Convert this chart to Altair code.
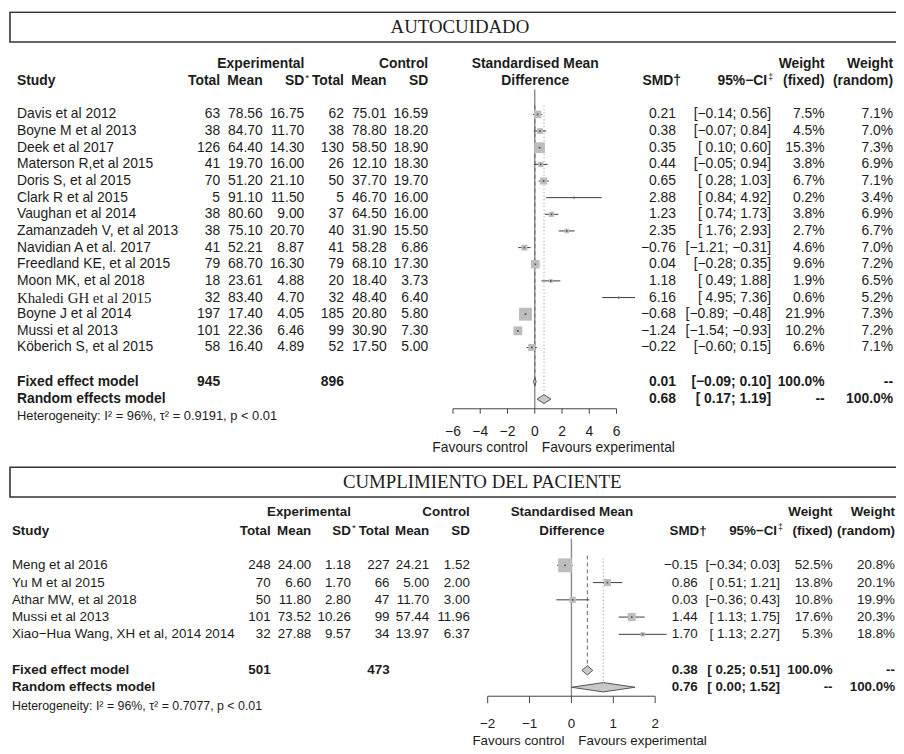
import altair as alt
import pandas as pd

SANS = "Liberation Sans"
SERIF = "Liberation Serif"
TXT = "#1c1c1c"
SQ = "#bdbdbd"
LINE = "#3a3a3a"

# ---------------- AUTOCUIDADO ----------------
a_study = ["Davis et al 2012", "Boyne M et al 2013", "Deek et al 2017", "Materson R,et al 2015",
           "Doris S, et al 2015", "Clark R et al 2015", "Vaughan et al 2014", "Zamanzadeh V, et al 2013",
           "Navidian A et al. 2017", "Freedland KE, et al 2015", "Moon MK, et al 2018",
           "Khaledi GH et al 2015", "Boyne J et al 2014", "Mussi et al 2013", "Köberich S, et al 2015"]
a_e_total = [63, 38, 126, 41, 70, 5, 38, 38, 41, 79, 18, 32, 197, 101, 58]
a_e_mean = [78.56, 84.70, 64.40, 19.70, 51.20, 91.10, 80.60, 75.10, 52.21, 68.70, 23.61, 83.40, 17.40, 22.36, 16.40]
a_e_sd = [16.75, 11.70, 14.30, 16.00, 21.10, 11.50, 9.00, 20.70, 8.87, 16.30, 4.88, 4.70, 4.05, 6.46, 4.89]
a_c_total = [62, 38, 130, 26, 50, 5, 37, 40, 41, 79, 20, 32, 185, 99, 52]
a_c_mean = [75.01, 78.80, 58.50, 12.10, 37.70, 46.70, 64.50, 31.90, 58.28, 68.10, 18.40, 48.40, 20.80, 30.90, 17.50]
a_c_sd = [16.59, 18.20, 18.90, 18.30, 19.70, 16.00, 16.00, 15.50, 6.86, 17.30, 3.73, 6.40, 5.80, 7.30, 5.00]
a_smd = [0.21, 0.38, 0.35, 0.44, 0.65, 2.88, 1.23, 2.35, -0.76, 0.04, 1.18, 6.16, -0.68, -1.24, -0.22]
a_lo = [-0.14, -0.07, 0.10, -0.05, 0.28, 0.84, 0.74, 1.76, -1.21, -0.28, 0.49, 4.95, -0.89, -1.54, -0.60]
a_hi = [0.56, 0.84, 0.60, 0.94, 1.03, 4.92, 1.73, 2.93, -0.31, 0.35, 1.88, 7.36, -0.48, -0.93, 0.15]
a_w_fixed = [7.5, 4.5, 15.3, 3.8, 6.7, 0.2, 3.8, 2.7, 4.6, 9.6, 1.9, 0.6, 21.9, 10.2, 6.6]
a_w_random = [7.1, 7.0, 7.3, 6.9, 7.1, 3.4, 6.9, 6.7, 7.0, 7.2, 6.5, 5.2, 7.3, 7.2, 7.1]
a_totals = [945, 896]
a_fixed = [0.01, -0.09, 0.10]
a_random = [0.68, 0.17, 1.19]
a_het = ["96%", "0.9191", "0.01"]
a_ticks = [-6, -4, -2, 0, 2, 4, 6]

# ---------------- CUMPLIMIENTO DEL PACIENTE ----------------
b_study = ["Meng et al 2016", "Yu M et al 2015", "Athar MW, et al 2018", "Mussi et al 2013",
           "Xiao\u2212Hua Wang, XH et al, 2014 2014"]
b_e_total = [248, 70, 50, 101, 32]
b_e_mean = [24.00, 6.60, 11.80, 73.52, 27.88]
b_e_sd = [1.18, 1.70, 2.80, 10.26, 9.57]
b_c_total = [227, 66, 47, 99, 34]
b_c_mean = [24.21, 5.00, 11.70, 57.44, 13.97]
b_c_sd = [1.52, 2.00, 3.00, 11.96, 6.37]
b_smd = [-0.15, 0.86, 0.03, 1.44, 1.70]
b_lo = [-0.34, 0.51, -0.36, 1.13, 1.13]
b_hi = [0.03, 1.21, 0.43, 1.75, 2.27]
b_w_fixed = [52.5, 13.8, 10.8, 17.6, 5.3]
b_w_random = [20.8, 20.1, 19.9, 20.3, 18.8]
b_totals = [501, 473]
b_fixed = [0.38, 0.25, 0.51]
b_random = [0.76, 0.00, 1.52]
b_het = ["96%", "0.7077", "0.01"]
b_ticks = [-2, -1, 0, 1, 2]

SERIF_STUDIES = ["Khaledi GH et al 2015"]

PANEL_A = dict(title="AUTOCUIDADO", study=a_study, et=a_e_total, em=a_e_mean, esd=a_e_sd,
               ct=a_c_total, cm=a_c_mean, csd=a_c_sd, smd=a_smd, lo=a_lo, hi=a_hi,
               wf=a_w_fixed, wr=a_w_random, totals=a_totals, fixed=a_fixed, random=a_random,
               het=a_het, ticks=a_ticks)
PANEL_B = dict(title="CUMPLIMIENTO DEL PACIENTE", study=b_study, et=b_e_total, em=b_e_mean, esd=b_e_sd,
               ct=b_c_total, cm=b_c_mean, csd=b_c_sd, smd=b_smd, lo=b_lo, hi=b_hi,
               wf=b_w_fixed, wr=b_w_random, totals=b_totals, fixed=b_fixed, random=b_random,
               het=b_het, ticks=b_ticks)

# ---------------- layout (positions / styles) ----------------
LAYOUT_A = dict(h=454, y0=104, dy=16.8, xr=[449, 614], fs=14, hfs=13, sfs=15,
                cols=dict(study=9, et=214, em=257, esd=299, ct=339, cm=382, csd=424,
                          smd=674, ci=770, wf=824, wr=893),
                smdhdr=679, cihdr=766, smdcenter=532,
                hdr1=-3, hdr2=-2, mfix=16.05, mran=17.1, het=18.1,
                axis=17.68, ticklen=0.3, labrow=19.1, favrow=20.06,
                zero=[-1.49, 17.68], fixline=[-0.54, 15.75], ranline=[-0.54, 16.75],
                dh=0.27, sq=13, box=[1, 31], title_x=456, title_y=16)
LAYOUT_B = dict(h=292, y0=105, dy=17.4, xr=[484, 653], fs=13.5, hfs=12.5, sfs=14.5,
                cols=dict(study=4, et=265, em=306, esd=346, ct=385, cm=425, csd=466,
                          smd=696, ci=779, wf=832, wr=895),
                smdhdr=705, cihdr=776, smdcenter=569,
                hdr1=-3.1, hdr2=-2.0, mfix=6.09, mran=7.07, het=8.16,
                axis=7.59, ticklen=0.4, labrow=9.2, favrow=10.17,
                zero=[-1.55, 7.59], fixline=[-0.57, 5.75], ranline=[-0.4, 6.8],
                dh=0.27, sq=14, box=[6, 36], title_x=478.5, title_y=21)


def num(v, d=2):
    return f"{v:.{d}f}".replace("-", "\u2212")


def pad(v):
    return (" " if v >= 0 else "") + num(v)


def ci_txt(lo, hi):
    return f"[{pad(lo)}; {pad(hi)}]"


def pct(v):
    return f"{v:.1f}%"


ONE = pd.DataFrame({"k": [0]})


def make_panel(P, L):
    n = len(P["study"])
    df = pd.DataFrame({
        "row": list(range(n)),
        "study": P["study"],
        "serif": [s in SERIF_STUDIES for s in P["study"]],
        "et": [str(v) for v in P["et"]],
        "em": [num(v) for v in P["em"]],
        "esd": [num(v) for v in P["esd"]],
        "ct": [str(v) for v in P["ct"]],
        "cm": [num(v) for v in P["cm"]],
        "csd": [num(v) for v in P["csd"]],
        "smd_t": [num(v) for v in P["smd"]],
        "ci_t": [ci_txt(l, h) for l, h in zip(P["lo"], P["hi"])],
        "wf_t": [pct(v) for v in P["wf"]],
        "wr_t": [pct(v) for v in P["wr"]],
        "smd": P["smd"], "lo": P["lo"], "hi": P["hi"], "wf": P["wf"],
    })
    mdf = pd.DataFrame({
        "row": [L["mfix"], L["mran"]],
        "study": ["Fixed effect model", "Random effects model"],
        "et": [str(P["totals"][0]), ""],
        "ct": [str(P["totals"][1]), ""],
        "smd_t": [num(P["fixed"][0]), num(P["random"][0])],
        "ci_t": [ci_txt(P["fixed"][1], P["fixed"][2]), ci_txt(P["random"][1], P["random"][2])],
        "wf_t": ["100.0%", "--"],
        "wr_t": ["--", "100.0%"],
    })
    dia = []
    for name, est, r in (("fixed", P["fixed"], L["mfix"]), ("random", P["random"], L["mran"])):
        dia.append({"m": name, "x": est[1], "yt": r, "yb": r})
        dia.append({"m": name, "x": est[0], "yt": r - L["dh"], "yb": r + L["dh"]})
        dia.append({"m": name, "x": est[2], "yt": r, "yb": r})
    ddf = pd.DataFrame(dia)
    tdf = pd.DataFrame({"t": P["ticks"], "lab": [num(t, 0) for t in P["ticks"]]})

    ysc = alt.Scale(domain=[0, 10], range=[L["y0"], L["y0"] + 10 * L["dy"]], nice=False, zero=False)
    xsc = alt.Scale(domain=[P["ticks"][0], P["ticks"][-1]], range=L["xr"], nice=False, zero=False)
    fs = L["fs"]
    C = L["cols"]
    Y = alt.Y("row:Q", scale=ysc, axis=None)

    def yd(r):
        return alt.YDatum(r, scale=ysc, axis=None)

    def xd(v):
        return alt.XDatum(v, scale=xsc, axis=None)

    def txt(data, field, x, align="right", bold=False, font=SANS, size=None):
        return alt.Chart(data).mark_text(
            align=align, baseline="middle", font=font, fontSize=size or fs,
            fontWeight="bold" if bold else "normal", color=TXT, clip=True
        ).encode(x=alt.value(x), y=Y, text=alt.Text(f"{field}:N"))

    def lab(text, x, r, align="left", bold=False, font=SANS, size=None, dy=0):
        return alt.Chart(ONE).mark_text(
            text=text, align=align, baseline="middle", font=font, fontSize=size or fs,
            fontWeight="bold" if bold else "normal", color=TXT, dy=dy, clip=True
        ).encode(x=alt.value(x), y=yd(r))

    layers = []
    # title box and title
    layers.append(alt.Chart(ONE).mark_rect(fillOpacity=0, stroke="#333333", strokeWidth=1.6, clip=True).encode(
        x=alt.value(2), x2=alt.value(960), y=alt.value(L["box"][0]), y2=alt.value(L["box"][1])))
    layers.append(alt.Chart(ONE).mark_text(text=P["title"], font=SERIF, fontSize=19, color=TXT,
                                           align="center", baseline="middle").encode(
        x=alt.value(L["title_x"]), y=alt.value(L["title_y"])))

    # headers
    h1, h2 = L["hdr1"], L["hdr2"]
    layers += [
        lab("Experimental", C["esd"], h1, "right", True),
        lab("Control", C["csd"], h1, "right", True),
        lab("Standardised Mean", L["smdcenter"], h1, "center", True),
        lab("Weight", C["wf"], h1, "right", True),
        lab("Weight", C["wr"], h1, "right", True),
        lab("Study", C["study"], h2, "left", True),
        lab("Total", C["et"], h2, "right", True),
        lab("Mean", C["em"], h2, "right", True),
        lab("SD", C["esd"], h2, "right", True),
        lab("*", C["esd"] + 1, h2, "left", False, size=10, dy=-3),
        lab("Total", C["ct"], h2, "right", True),
        lab("Mean", C["cm"], h2, "right", True),
        lab("SD", C["csd"], h2, "right", True),
        lab("Difference", L["smdcenter"], h2, "center", True),
        lab("SMD\u2020", L["smdhdr"], h2, "right", True),
        lab("95%\u2212CI", L["cihdr"], h2, "right", True),
        lab("\u2021", L["cihdr"] + 1, h2, "left", False, size=9, dy=-4),
        lab("(fixed)", C["wf"], h2, "right", True),
        lab("(random)", C["wr"], h2, "right", True),
    ]

    # study rows
    layers.append(txt(df[~df["serif"]], "study", C["study"], "left"))
    if df["serif"].any():
        layers.append(txt(df[df["serif"]], "study", C["study"], "left", font=SERIF, size=L["sfs"]))
    for f in ["et", "em", "esd", "ct", "cm", "csd"]:
        layers.append(txt(df, f, C[f]))
    layers.append(txt(df, "smd_t", C["smd"]))
    layers.append(txt(df, "ci_t", C["ci"]))
    layers.append(txt(df, "wf_t", C["wf"]))
    layers.append(txt(df, "wr_t", C["wr"]))

    # model rows
    layers.append(txt(mdf, "study", C["study"], "left", True))
    layers.append(txt(mdf, "et", C["et"], "right", True))
    layers.append(txt(mdf, "ct", C["ct"], "right", True))
    layers.append(txt(mdf, "smd_t", C["smd"], "right", True))
    layers.append(txt(mdf, "ci_t", C["ci"], "right", True))
    layers.append(txt(mdf, "wf_t", C["wf"], "right", True))
    layers.append(txt(mdf, "wr_t", C["wr"], "right", True))

    het = f"Heterogeneity: I\u00b2 = {P['het'][0]}, \u03c4\u00b2 = {P['het'][1]}, p < {P['het'][2]}"
    layers.append(lab(het, C["study"], L["het"], "left", size=L["hfs"]))

    # forest: reference lines
    layers.append(alt.Chart(ONE).mark_rule(color="#8a8a8a", strokeWidth=1.4).encode(
        x=xd(0), y=yd(L["zero"][0]), y2=alt.Y2Datum(L["zero"][1])))
    layers.append(alt.Chart(ONE).mark_rule(color="#666666", strokeWidth=1, strokeDash=[4, 3]).encode(
        x=xd(P["fixed"][0]), y=yd(L["fixline"][0]), y2=alt.Y2Datum(L["fixline"][1])))
    layers.append(alt.Chart(ONE).mark_rule(color="#8c8c8c", strokeWidth=1, strokeDash=[1, 2.5]).encode(
        x=xd(P["random"][0]), y=yd(L["ranline"][0]), y2=alt.Y2Datum(L["ranline"][1])))

    # CIs and squares
    layers.append(alt.Chart(df).mark_rule(color=LINE, strokeWidth=1).encode(
        x=alt.X("lo:Q", scale=xsc, axis=None), x2="hi:Q", y=Y))
    layers.append(alt.Chart(df).mark_square(color=SQ, opacity=1).encode(
        x=alt.X("smd:Q", scale=xsc, axis=None), y=Y,
        size=alt.Size("wf:Q", scale=alt.Scale(domain=[0, max(P["wf"])], range=[0, L["sq"] ** 2]), legend=None)))
    layers.append(alt.Chart(df).mark_point(shape="square", filled=True, color="#555555", size=3, opacity=1).encode(
        x=alt.X("smd:Q", scale=xsc, axis=None), y=Y))

    # diamonds
    layers.append(alt.Chart(ddf).mark_area(orient="vertical", color="#c8c8c8", stroke="#555555",
                                           strokeWidth=1, opacity=1).encode(
        x=alt.X("x:Q", scale=xsc, axis=None), y=alt.Y("yt:Q", scale=ysc, axis=None), y2="yb:Q",
        detail="m:N"))

    # axis
    layers.append(alt.Chart(ONE).mark_rule(color="#444444", strokeWidth=1).encode(
        x=xd(P["ticks"][0]), x2=alt.X2Datum(P["ticks"][-1]), y=yd(L["axis"])))
    layers.append(alt.Chart(tdf).mark_rule(color="#444444", strokeWidth=1).encode(
        x=alt.X("t:Q", scale=xsc, axis=None), y=yd(L["axis"]), y2=alt.Y2Datum(L["axis"] + L["ticklen"])))
    layers.append(alt.Chart(tdf).mark_text(font=SANS, fontSize=fs, color=TXT, align="center",
                                           baseline="middle").encode(
        x=alt.X("t:Q", scale=xsc, axis=None), y=yd(L["labrow"]), text="lab:N"))
    layers.append(alt.Chart(ONE).mark_text(text="Favours control", font=SANS, fontSize=fs, color=TXT,
                                           align="right", baseline="middle", dx=-7).encode(
        x=xd(0), y=yd(L["favrow"])))
    layers.append(alt.Chart(ONE).mark_text(text="Favours experimental", font=SANS, fontSize=fs, color=TXT,
                                           align="left", baseline="middle", dx=7).encode(
        x=xd(0), y=yd(L["favrow"])))

    return alt.layer(*layers).properties(width=896, height=L["h"])


p1 = make_panel(PANEL_A, LAYOUT_A)
p2 = make_panel(PANEL_B, LAYOUT_B)

chart = alt.vconcat(p1, p2, spacing=0, bounds="flush").resolve_scale(
    x="independent", y="independent", size="independent"
).properties(padding=0, background="white").configure_view(stroke=None)

chart.save("out.html", embed_options={"renderer": "svg", "actions": False})
